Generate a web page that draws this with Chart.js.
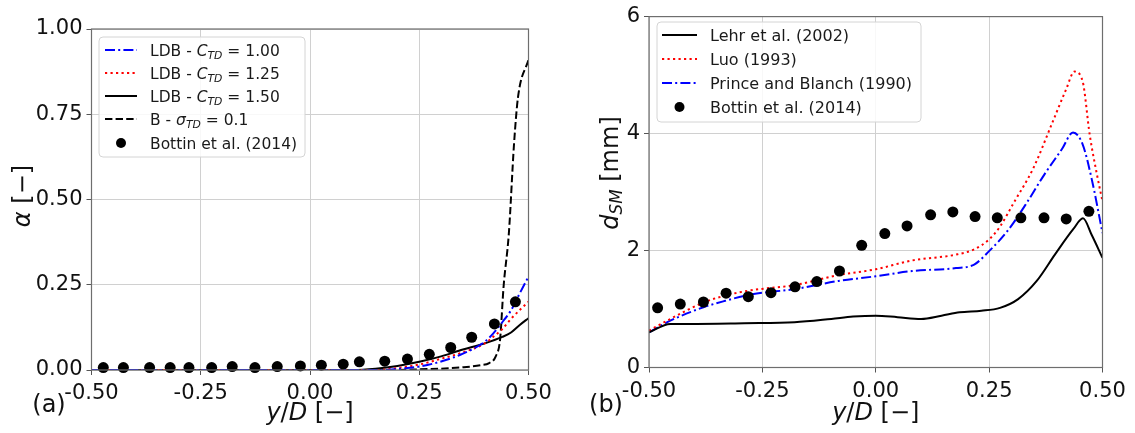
<!DOCTYPE html>
<html><head><meta charset="utf-8">
<script src="https://cdn.jsdelivr.net/npm/chart.js@4.4.0/dist/chart.umd.min.js"></script>
<style>
html,body{margin:0;padding:0;background:#fff;}
#wrap{position:relative;width:1135px;height:433px;overflow:hidden;background:#fff;}
.box{position:absolute;top:0;height:433px;}
</style></head><body>
<div id="wrap">
<div class="box" style="left:0;width:560px"><canvas id="ca" width="560" height="433"></canvas></div>
<div class="box" style="left:560px;width:575px"><canvas id="cb" width="575" height="433"></canvas></div>
</div>
<script>
// ---------- tick values ----------
const xTicks = [-0.5, -0.25, 0, 0.25, 0.5];
const alphaTicks = [0, 0.25, 0.5, 0.75, 1.0];
const dsmTicks = [0, 2, 4, 6];

// ---------- panel (a): void fraction ----------
const bottinAlphaX = [-0.473,-0.427,-0.367,-0.320,-0.277,-0.225,-0.178,-0.126,-0.075,-0.022,0.026,0.076,0.113,0.171,0.223,0.273,0.322,0.370,0.422,0.470];
const bottinAlphaY = [0.007,0.007,0.007,0.007,0.007,0.007,0.010,0.007,0.010,0.012,0.014,0.017,0.024,0.026,0.032,0.046,0.066,0.096,0.135,0.200];

const ldb100X = [-0.5, 0.0, 0.17, 0.2, 0.25, 0.3, 0.35, 0.4, 0.42, 0.44, 0.46, 0.48, 0.5];
const ldb100Y = [0, 0, 0, 0.003, 0.010, 0.025, 0.048, 0.083, 0.108, 0.140, 0.175, 0.225, 0.274];

const ldb125X = [-0.5, 0.0, 0.15, 0.2, 0.25, 0.3, 0.35, 0.4, 0.42, 0.44, 0.46, 0.48, 0.5];
const ldb125Y = [0, 0, 0, 0.006, 0.016, 0.033, 0.052, 0.078, 0.098, 0.120, 0.150, 0.176, 0.200];

const ldb150X = [-0.5, 0.0, 0.1, 0.15, 0.2, 0.25, 0.3, 0.35, 0.4, 0.44, 0.46, 0.48, 0.5];
const ldb150Y = [0, 0, 0, 0.004, 0.012, 0.024, 0.040, 0.060, 0.078, 0.097, 0.110, 0.132, 0.152];

const bSigmaX = [-0.5, 0.2, 0.25, 0.3, 0.35, 0.39, 0.41, 0.425, 0.435, 0.443, 0.455, 0.467, 0.476, 0.5];
const bSigmaY = [0, 0, 0.002, 0.004, 0.008, 0.014, 0.020, 0.040, 0.090, 0.245, 0.400, 0.665, 0.800, 0.910];

// ---------- panel (b): Sauter mean diameter ----------
const bottinDsmX = [-0.481,-0.431,-0.380,-0.330,-0.281,-0.231,-0.178,-0.130,-0.080,-0.031,0.020,0.069,0.121,0.170,0.219,0.268,0.320,0.371,0.420,0.470];
const bottinDsmY = [1.02,1.085,1.12,1.27,1.21,1.28,1.38,1.47,1.65,2.09,2.29,2.42,2.61,2.66,2.58,2.56,2.56,2.56,2.54,2.67];

const lehrX = [-0.5,-0.453,-0.413,-0.29,-0.179,-0.098,-0.05,0.0,0.048,0.1,0.145,0.185,0.233,0.274,0.314,0.355,0.395,0.435,0.457,0.476,0.5];
const lehrY = [0.60,0.745,0.745,0.757,0.773,0.83,0.87,0.886,0.86,0.83,0.886,0.943,0.97,1.02,1.17,1.48,1.93,2.36,2.55,2.27,1.875];

const luoX = [-0.5,-0.453,-0.38,-0.332,-0.275,-0.179,-0.082,0.0,0.08,0.177,0.217,0.25,0.274,0.306,0.347,0.387,0.42,0.438,0.456,0.472,0.488,0.5];
const luoY = [0.63,0.83,1.11,1.23,1.32,1.41,1.58,1.68,1.83,1.93,2.02,2.19,2.41,2.84,3.40,4.14,4.76,5.06,4.90,3.97,3.29,2.84];

const princeX = [-0.5,-0.453,-0.38,-0.332,-0.275,-0.179,-0.082,0.0,0.08,0.177,0.217,0.25,0.29,0.33,0.371,0.411,0.435,0.456,0.476,0.5];
const princeY = [0.60,0.80,1.03,1.14,1.25,1.34,1.48,1.56,1.65,1.70,1.76,1.99,2.33,2.78,3.29,3.74,4.02,3.82,3.23,2.30];

// ---------- legend labels (text parts: '' normal, 'i' italic, 's' italic subscript) ----------
const legendA = [
  [['LDB - ',''],['C','i'],['TD','s'],[' = 1.00','']],
  [['LDB - ',''],['C','i'],['TD','s'],[' = 1.25','']],
  [['LDB - ',''],['C','i'],['TD','s'],[' = 1.50','']],
  [['B - ',''],['σ','i'],['TD','s'],[' = 0.1','']],
  [['Bottin et al. (2014)','']]
];
const legendB = [
  [['Lehr et al. (2002)','']],
  [['Luo (1993)','']],
  [['Prince and Blanch (1990)','']],
  [['Bottin et al. (2014)','']]
];

// ---------- helpers ----------
const FF = "'DejaVu Sans', sans-serif";
const zip = (xs, ys) => xs.map((x, i) => ({x: x, y: ys[i]}));
function fontFor(p, size) {
  const it = p[1] === 'i' || p[1] === 's';
  const sz = p[1] === 's' ? size * 0.7 : size;
  return (it ? 'italic ' : '') + sz + 'px ' + FF;
}
function rich(ctx, parts, x, y, size, align) {
  let w = 0;
  const m = parts.map(p => { ctx.font = fontFor(p, size); const pw = ctx.measureText(p[0]).width; w += pw; return pw; });
  let cx = align === 'center' ? x - w / 2 : x;
  ctx.textBaseline = 'alphabetic';
  ctx.textAlign = 'left';
  parts.forEach((p, i) => {
    ctx.font = fontFor(p, size);
    ctx.fillText(p[0], cx, y + (p[1] === 's' ? size * 0.2 : 0));
    cx += m[i];
  });
}
function roundRect(ctx, x, y, w, h, r) {
  ctx.beginPath();
  ctx.moveTo(x + r, y); ctx.lineTo(x + w - r, y); ctx.quadraticCurveTo(x + w, y, x + w, y + r);
  ctx.lineTo(x + w, y + h - r); ctx.quadraticCurveTo(x + w, y + h, x + w - r, y + h);
  ctx.lineTo(x + r, y + h); ctx.quadraticCurveTo(x, y + h, x, y + h - r);
  ctx.lineTo(x, y + r); ctx.quadraticCurveTo(x, y, x + r, y); ctx.closePath();
}

const DASHDOT = [10, 3.2, 2, 3.2];
const DOTTED = [2.2, 3.3];
const DASHED = [7.4, 3.2];

function lineDs(label, pts, color, dash, order) {
  return {label, data: pts, borderColor: color, backgroundColor: color, borderWidth: 2,
    borderDash: dash, pointRadius: 0, cubicInterpolationMode: 'monotone', fill: false, order, borderCapStyle: 'butt'};
}
function pointDs(label, pts) {
  return {label, data: pts, showLine: false, pointRadius: 5.5, pointHoverRadius: 5.5,
    pointBackgroundColor: '#000', pointBorderWidth: 0, borderColor: '#000', backgroundColor: '#000', order: 0, clip: false};
}

function decoPlugin(d) {
  return {
    id: 'deco_' + d.id,
    afterDatasetsDraw(chart) {
      const ctx = chart.ctx, a = chart.chartArea;
      ctx.save();
      ctx.setLineDash([]);
      ctx.strokeStyle = '#6e6e6e'; ctx.lineWidth = 1.2;
      ctx.strokeRect(a.left, a.top, a.right - a.left, a.bottom - a.top);
      // legend
      const L = d.legend;
      roundRect(ctx, L.x0, L.y0, L.x1 - L.x0, L.y1 - L.y0, 4);
      ctx.fillStyle = 'rgba(255,255,255,0.85)'; ctx.fill();
      ctx.strokeStyle = '#d4d4d4'; ctx.lineWidth = 1; ctx.stroke();
      L.rows.forEach((r, i) => {
        const yc = L.rowY[i];
        if (r.kind === 'line') {
          ctx.setLineDash(r.dash || []); ctx.lineCap = 'butt';
          ctx.strokeStyle = r.color; ctx.lineWidth = 2;
          ctx.beginPath(); ctx.moveTo(L.sx0, yc); ctx.lineTo(L.sx1, yc); ctx.stroke();
          ctx.setLineDash([]);
        } else {
          ctx.fillStyle = '#000'; ctx.beginPath(); ctx.arc((L.sx0 + L.sx1) / 2, yc, 5, 0, Math.PI * 2); ctx.fill();
        }
        ctx.fillStyle = '#1a1a1a';
        rich(ctx, r.label, L.tx, yc + L.size * 0.36, L.size, 'left');
      });
      // axis titles
      ctx.fillStyle = '#111';
      const cxa = (a.left + a.right) / 2;
      rich(ctx, [['y','i'],['/',''],['D','i'],[' [−]','']], cxa, d.xTitleY, d.titleSize, 'center');
      ctx.save();
      ctx.translate(d.yTitleX, d.yTitleY);
      ctx.rotate(-Math.PI / 2);
      rich(ctx, d.yTitle, 0, d.titleSize * 0.36, d.titleSize, 'center');
      ctx.restore();
      // panel tag
      ctx.font = d.tagSize + 'px ' + FF; ctx.textAlign = 'center'; ctx.textBaseline = 'middle';
      ctx.fillText(d.tag, d.tagX, d.tagY);
      ctx.restore();
    }
  };
}

function baseOptions(o) {
  return {
    responsive: false, animation: false, devicePixelRatio: 1,
    layout: {padding: {left: 0, top: o.top, right: o.right, bottom: 0}},
    plugins: {legend: {display: false}, tooltip: {enabled: false}},
    scales: {
      x: {type: 'linear', min: -0.5, max: 0.5,
        afterBuildTicks: s => { s.ticks = xTicks.map(v => ({value: v})); },
        afterFit: s => { s.height = o.xh; },
        ticks: {autoSkip: false, maxRotation: 0, padding: 6, color: '#111',
          font: {family: FF, size: 21}, callback: v => Number(v).toFixed(2)},
        grid: {color: '#d0d0d0', lineWidth: 1, tickLength: 5, tickColor: '#555', drawTicks: true},
        border: {display: false}},
      y: {type: 'linear', min: o.ymin, max: o.ymax,
        afterBuildTicks: s => { s.ticks = o.yTicks.map(v => ({value: v})); },
        afterFit: s => { s.width = o.yw; },
        ticks: {autoSkip: false, padding: 4, color: '#111',
          font: {family: FF, size: 21}, callback: v => Number(v).toFixed(o.ydec)},
        grid: {color: '#d0d0d0', lineWidth: 1, tickLength: 5, tickColor: '#555', drawTicks: true},
        border: {display: false}}
    }
  };
}

// ---------- chart (a) ----------
new Chart(document.getElementById('ca'), {
  type: 'line',
  data: {datasets: [
    pointDs('Bottin et al. (2014)', zip(bottinAlphaX, bottinAlphaY)),
    lineDs('LDB 1.00', zip(ldb100X, ldb100Y), '#0000ff', DASHDOT, 1),
    lineDs('LDB 1.25', zip(ldb125X, ldb125Y), '#ff0000', DOTTED, 2),
    lineDs('LDB 1.50', zip(ldb150X, ldb150Y), '#000000', [], 3),
    lineDs('B 0.1', zip(bSigmaX, bSigmaY), '#000000', DASHED, 4)
  ]},
  options: baseOptions({top: 29, right: 31.5, xh: 63, yw: 91.5, ymin: 0, ymax: 1, yTicks: alphaTicks, ydec: 2}),
  plugins: [decoPlugin({
    id: 'a',
    legend: {x0: 99, y0: 37, x1: 305, y1: 157, sx0: 105, sx1: 137, tx: 150, size: 15.5,
      rowY: [50, 73, 96, 119, 143],
      rows: [
        {kind: 'line', color: '#0000ff', dash: DASHDOT, label: legendA[0]},
        {kind: 'line', color: '#ff0000', dash: DOTTED, label: legendA[1]},
        {kind: 'line', color: '#000', dash: [], label: legendA[2]},
        {kind: 'line', color: '#000', dash: DASHED, label: legendA[3]},
        {kind: 'pt', label: legendA[4]}
      ]},
    xTitleY: 420, titleSize: 24,
    yTitle: [['α','i'],[' [−]','']], yTitleX: 21, yTitleY: 196,
    tag: '(a)', tagX: 49, tagY: 406, tagSize: 24
  })]
});

// ---------- chart (b) ----------
new Chart(document.getElementById('cb'), {
  type: 'line',
  data: {datasets: [
    pointDs('Bottin et al. (2014)', zip(bottinDsmX, bottinDsmY)),
    lineDs('Lehr et al. (2002)', zip(lehrX, lehrY), '#000000', [], 1),
    lineDs('Luo (1993)', zip(luoX, luoY), '#ff0000', DOTTED, 2),
    lineDs('Prince and Blanch (1990)', zip(princeX, princeY), '#0000ff', DASHDOT, 3)
  ]},
  options: baseOptions({top: 13.5, right: 32.5, xh: 65.5, yw: 89, ymin: 0, ymax: 6, yTicks: dsmTicks, ydec: 0}),
  plugins: [decoPlugin({
    id: 'b',
    legend: {x0: 97, y0: 22, x1: 361, y1: 122, sx0: 102, sx1: 137, tx: 150, size: 16,
      rowY: [35, 59, 83, 107],
      rows: [
        {kind: 'line', color: '#000', dash: [], label: legendB[0]},
        {kind: 'line', color: '#ff0000', dash: DOTTED, label: legendB[1]},
        {kind: 'line', color: '#0000ff', dash: DASHDOT, label: legendB[2]},
        {kind: 'pt', label: legendB[3]}
      ]},
    xTitleY: 420, titleSize: 24,
    yTitle: [['d','i'],['SM','s'],[' [mm]','']], yTitleX: 49, yTitleY: 173,
    tag: '(b)', tagX: 46, tagY: 406, tagSize: 24
  })]
});
</script>
</body></html>
